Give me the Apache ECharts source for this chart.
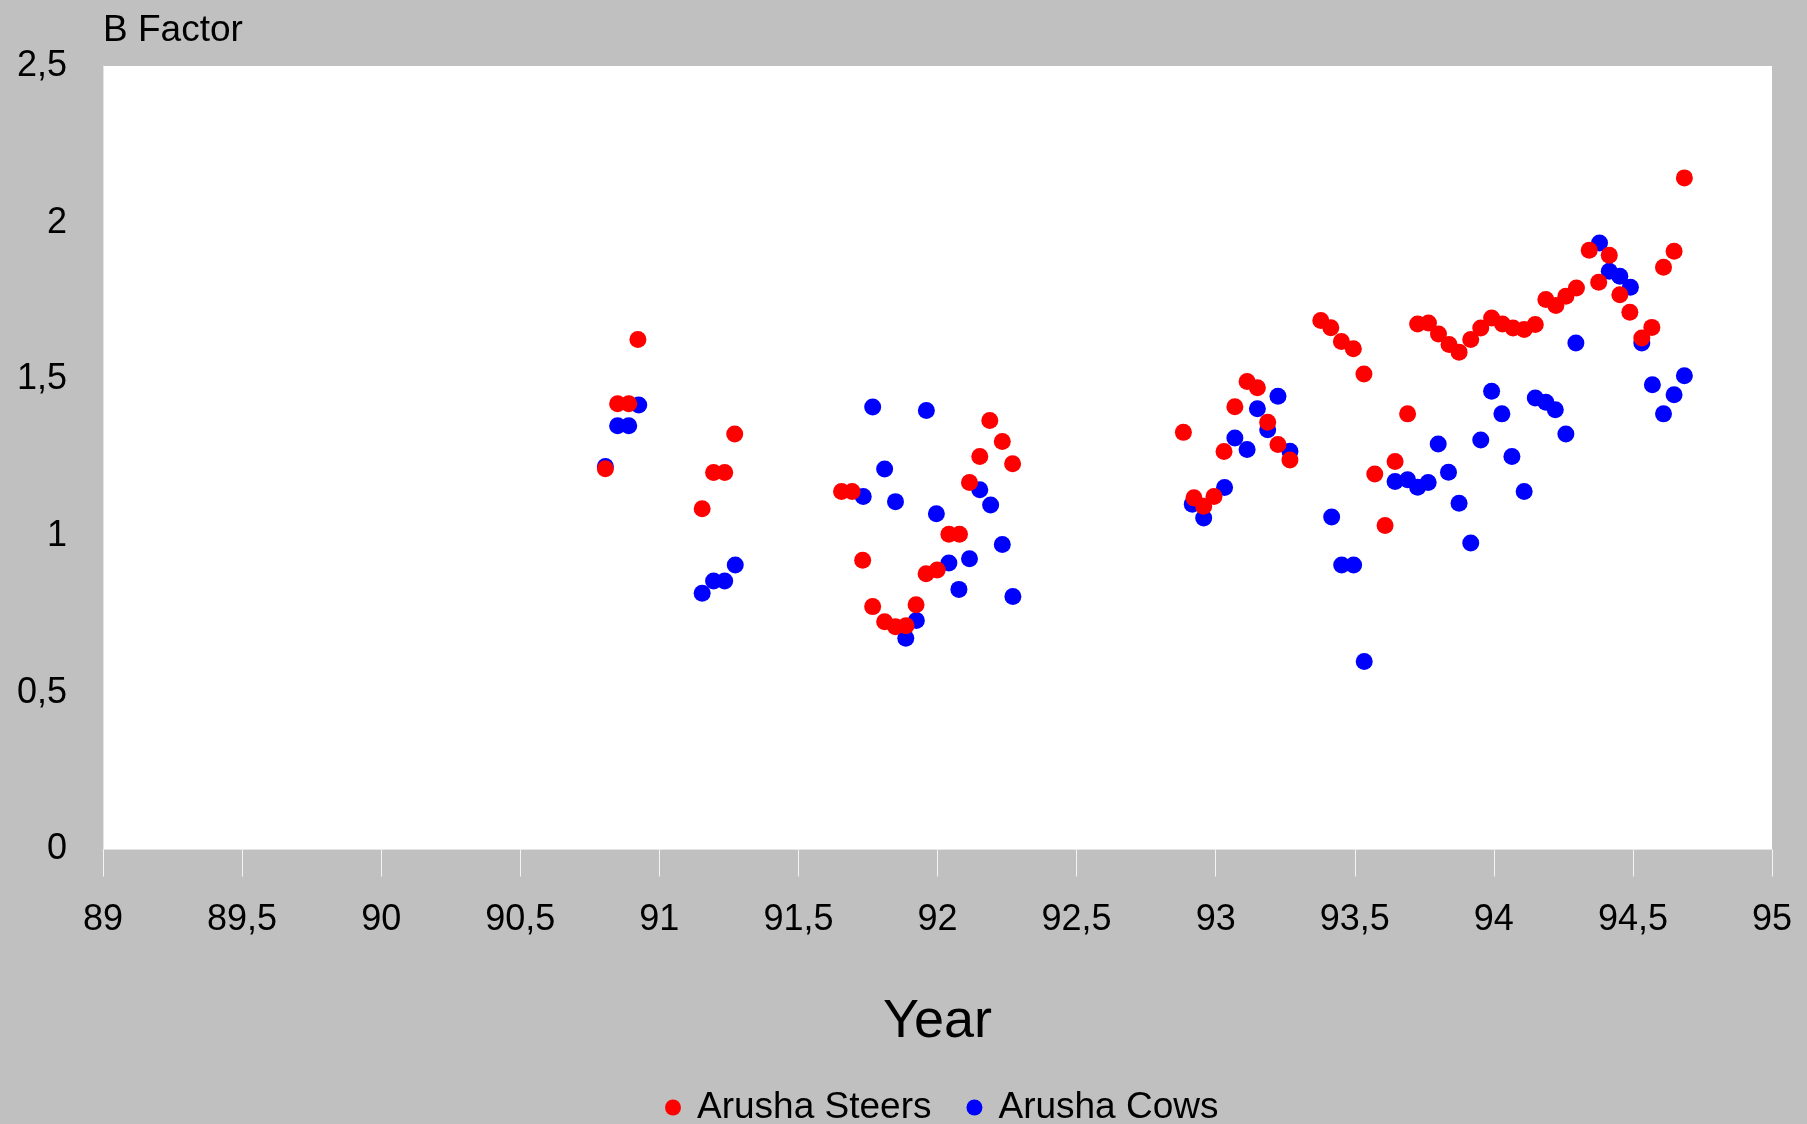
<!DOCTYPE html>
<html>
<head>
<meta charset="utf-8">
<script src="https://cdn.jsdelivr.net/npm/echarts@6/dist/echarts.min.js"></script>
<style>
html,body{margin:0;padding:0;background:#c0c0c0;}
#chart{width:1807px;height:1124px;}
</style>
</head>
<body>
<div id="chart"></div>
<script>
const steersX = [90.806, 90.850, 90.890, 90.923, 91.154, 91.195, 91.235, 91.271,
  91.655, 91.693, 91.731, 91.767, 91.810, 91.849, 91.887, 91.923, 91.959, 91.999, 92.041, 92.079, 92.115, 92.152, 92.188, 92.233, 92.270,
  92.884, 92.922, 92.957, 92.994, 93.030, 93.069, 93.113, 93.150, 93.187, 93.224, 93.267,
  93.378, 93.414, 93.452, 93.495, 93.533, 93.572, 93.609, 93.645, 93.690, 93.726, 93.765, 93.801, 93.839, 93.875, 93.917, 93.953, 93.992, 94.031, 94.069, 94.109, 94.149,
  94.187, 94.223, 94.259, 94.297, 94.343, 94.377, 94.415, 94.453, 94.489, 94.532, 94.568, 94.610, 94.648, 94.685];
const steersY = [1.215, 1.422, 1.422, 1.627, 1.087, 1.203, 1.203, 1.326,
  1.142, 1.142, 0.923, 0.775, 0.727, 0.711, 0.714, 0.781, 0.880, 0.892, 1.006, 1.006, 1.171, 1.254, 1.369, 1.302, 1.231,
  1.331, 1.122, 1.095, 1.126, 1.270, 1.413, 1.493, 1.473, 1.363, 1.292, 1.243,
  1.688, 1.665, 1.621, 1.598, 1.517, 1.198, 1.034, 1.238, 1.390, 1.677, 1.680, 1.645, 1.611, 1.587, 1.627, 1.664, 1.696, 1.677, 1.664, 1.659, 1.675,
  1.755, 1.736, 1.765, 1.792, 1.912, 1.810, 1.896, 1.770, 1.714, 1.632, 1.666, 1.858, 1.909, 2.143];
const cowsX = [90.806, 90.850, 90.890, 90.926, 91.154, 91.195, 91.235, 91.273,
  91.733, 91.767, 91.810, 91.849, 91.886, 91.924, 91.960, 91.996, 92.041, 92.077, 92.115, 92.152, 92.191, 92.233, 92.271,
  92.916, 92.957, 93.032, 93.069, 93.113, 93.150, 93.187, 93.224, 93.267,
  93.417, 93.453, 93.496, 93.534, 93.645, 93.690, 93.726, 93.764, 93.800, 93.837, 93.875, 93.917, 93.953, 93.992, 94.029, 94.065, 94.109, 94.149,
  94.187, 94.221, 94.259, 94.295, 94.380, 94.415, 94.453, 94.491, 94.532, 94.570, 94.610, 94.648, 94.685];
const cowsY = [1.222, 1.352, 1.352, 1.418, 0.818, 0.857, 0.857, 0.908,
  1.126, 1.412, 1.214, 1.110, 0.674, 0.731, 1.401, 1.071, 0.914, 0.830, 0.928, 1.148, 1.099, 0.973, 0.807,
  1.102, 1.058, 1.155, 1.313, 1.276, 1.406, 1.339, 1.446, 1.271,
  1.061, 0.908, 0.908, 0.600, 1.174, 1.180, 1.156, 1.171, 1.294, 1.204, 1.105, 0.978, 1.307, 1.462, 1.390, 1.254, 1.142, 1.441,
  1.427, 1.403, 1.326, 1.616, 1.935, 1.845, 1.829, 1.794, 1.616, 1.483, 1.390, 1.451, 1.512];
const seriesNames = ['Arusha Steers', 'Arusha Cows'];
const xTitle = 'Year';
const yTitle = 'B Factor';

const pair = (xs, ys) => xs.map((x, i) => [x, ys[i]]);
const comma = v => String(v).replace('.', ',');
const FONT = '"Liberation Sans", Arial, Helvetica, sans-serif';

const chart = echarts.init(document.getElementById('chart'), null, {renderer: 'canvas'});
chart.setOption({
  backgroundColor: '#c0c0c0',
  animation: false,
  grid: {left: 103, right: 35, top: 66, bottom: 274.5, show: true, backgroundColor: '#ffffff', borderWidth: 0},
  xAxis: {
    type: 'value', min: 89, max: 95, interval: 0.5,
    name: xTitle, nameLocation: 'middle', nameGap: 146,
    nameTextStyle: {fontFamily: '"Liberation Sans Narrow", "Liberation Sans", Arial, sans-serif', fontSize: 54, color: '#000'},
    axisLine: {show: true, lineStyle: {color: '#e4e4e4', width: 1}},
    axisTick: {show: true, inside: false, length: 27, lineStyle: {color: '#f4f4f4', width: 1}},
    axisLabel: {formatter: comma, fontFamily: FONT, fontSize: 36, color: '#000', margin: 53},
    splitLine: {show: false}
  },
  yAxis: {
    type: 'value', min: 0, max: 2.5, interval: 0.5,
    name: yTitle, nameLocation: 'end', nameGap: 17,
    nameTextStyle: {fontFamily: FONT, fontSize: 37, color: '#000', align: 'left'},
    axisLine: {show: true, lineStyle: {color: '#e4e4e4', width: 1}},
    axisTick: {show: false},
    axisLabel: {formatter: comma, fontFamily: FONT, fontSize: 36, color: '#000', margin: 36},
    splitLine: {show: false}
  },
  legend: {
    data: seriesNames,
    left: 660, top: 1084,
    itemWidth: 16, itemHeight: 16, itemGap: 35,
    icon: 'circle',
    textStyle: {fontFamily: FONT, fontSize: 37, color: '#000', padding: [0, 0, 0, 11]}
  },
  series: [
    {name: seriesNames[1], type: 'scatter', data: pair(cowsX, cowsY), symbol: 'circle', symbolSize: 17,
     itemStyle: {color: '#0000ff', opacity: 1}, z: 2},
    {name: seriesNames[0], type: 'scatter', data: pair(steersX, steersY), symbol: 'circle', symbolSize: 17,
     itemStyle: {color: '#ff0000', opacity: 1}, z: 3}
  ]
});
</script>
</body>
</html>
